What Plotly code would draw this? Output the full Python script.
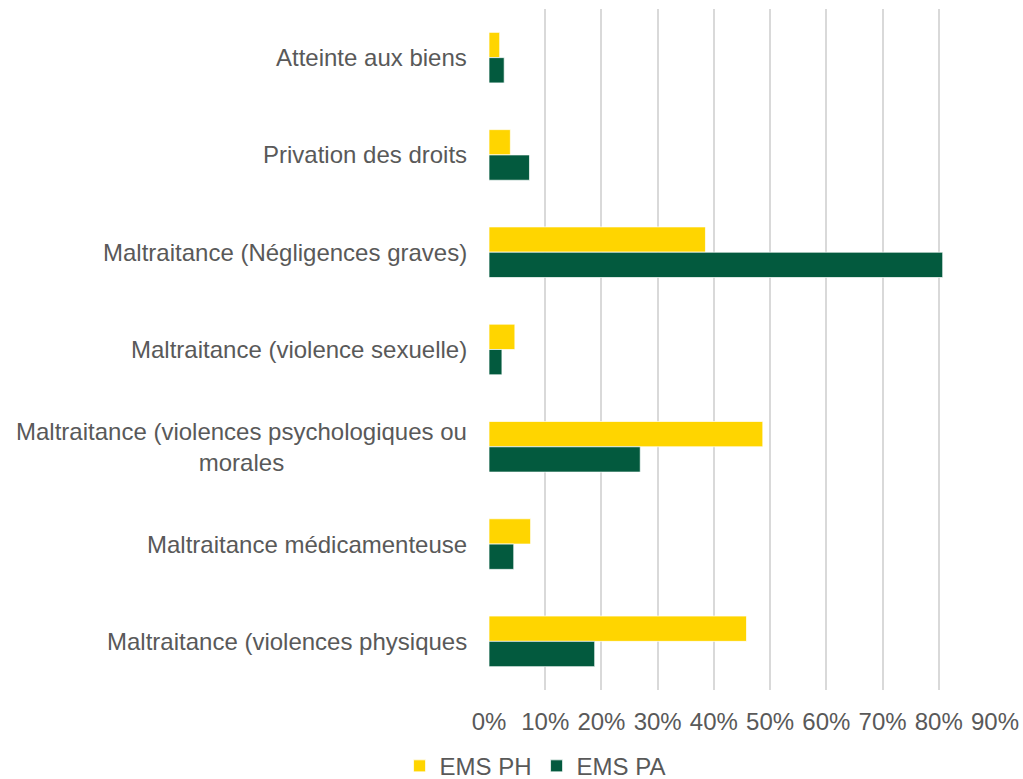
import plotly.graph_objects as go

categories = [
    "Atteinte aux biens",
    "Privation des droits",
    "Maltraitance (Négligences graves)",
    "Maltraitance (violence sexuelle)",
    "Maltraitance (violences psychologiques ou<br>morales",
    "Maltraitance médicamenteuse",
    "Maltraitance (violences physiques",
]
ems_ph = [0.019, 0.038, 0.385, 0.046, 0.487, 0.074, 0.458]
ems_pa = [0.027, 0.072, 0.807, 0.023, 0.269, 0.044, 0.188]
x_ticks = [0, 0.1, 0.2, 0.3, 0.4, 0.5, 0.6, 0.7, 0.8, 0.9]

FONT = "Liberation Sans, Arial, sans-serif"
GREY = "#595959"
FS = 24

fig = go.Figure()
fig.add_trace(go.Bar(
    y=categories, x=ems_ph, orientation="h", name="EMS PH",
    marker=dict(color="#FFD500", line=dict(color="rgba(255,255,255,0.7)", width=1)),
))
fig.add_trace(go.Bar(
    y=categories, x=ems_pa, orientation="h", name="EMS PA",
    marker=dict(color="#035A3E", line=dict(color="rgba(255,255,255,0.7)", width=1)),
))

annotations = [
    dict(text=c, x=0, xref="paper", xanchor="right", xshift=-20,
         y=c, yref="y", yanchor="middle", align="center",
         showarrow=False, font=dict(family=FONT, size=FS, color=GREY))
    for c in categories
]

fig.update_layout(
    width=1023, height=779,
    margin=dict(l=489, r=28, t=9, b=89, autoexpand=False),
    paper_bgcolor="white", plot_bgcolor="white",
    barmode="group", bargap=0.48, bargroupgap=0,
    font=dict(family=FONT, size=FS, color=GREY),
    showlegend=True,
    legend=dict(orientation="h", x=0.091, xanchor="center", y=-0.112, yanchor="middle",
                font=dict(family=FONT, size=FS, color=GREY), traceorder="normal",
                itemwidth=30, tracegroupgap=0),
    annotations=annotations,
)
fig.update_xaxes(
    range=[0, 0.9], tickvals=x_ticks, tickformat=".0%",
    showgrid=True, gridcolor="#D9D9D9", gridwidth=1.5,
    zeroline=False, showline=False, automargin=False,
    ticks="outside", ticklen=10, tickcolor="rgba(0,0,0,0)",
    tickfont=dict(family=FONT, size=FS, color=GREY),
)
fig.update_yaxes(
    autorange="reversed", showticklabels=False, showgrid=False,
    zeroline=False, showline=False,
)

fig.write_html(
    "out.html",
    config={"displayModeBar": False},
    post_script="document.body.style.margin='0';document.body.style.overflow='hidden';",
)
